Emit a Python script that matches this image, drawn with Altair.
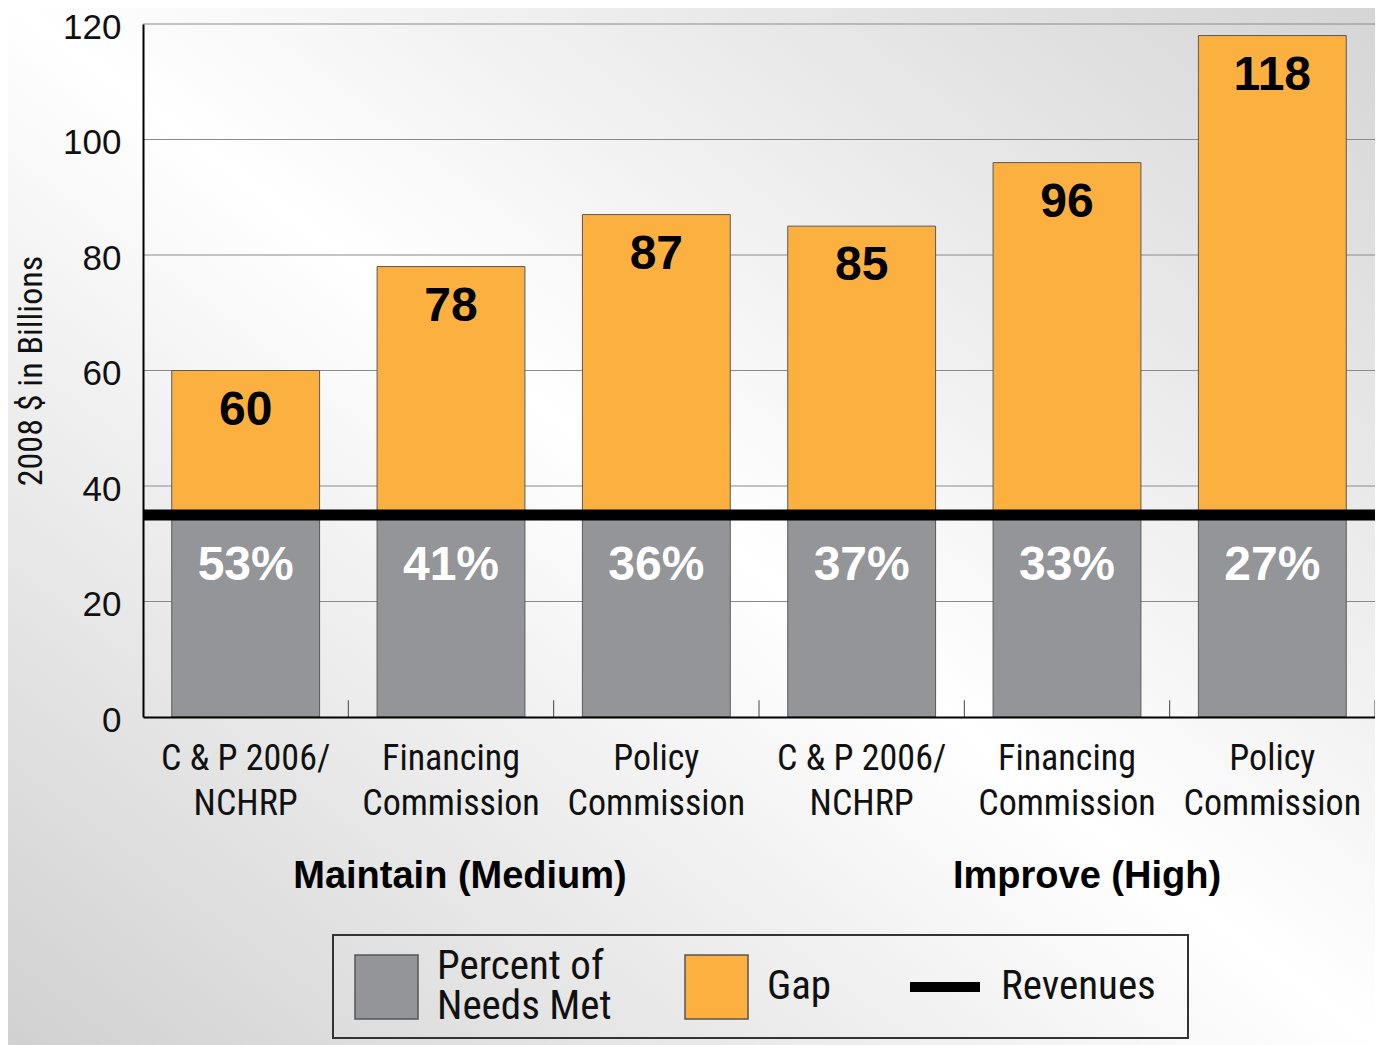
import altair as alt
import pandas as pd

# ---- data ----
groups = ["Maintain (Medium)"] * 3 + ["Improve (High)"] * 3
line1 = ["C & P 2006/", "Financing", "Policy", "C & P 2006/", "Financing", "Policy"]
line2 = ["NCHRP", "Commission", "Commission", "NCHRP", "Commission", "Commission"]
totals = [60, 78, 87, 85, 96, 118]
percent_met = ["53%", "41%", "36%", "37%", "33%", "27%"]
revenue = 35
y_ticks = [0, 20, 40, 60, 80, 100, 120]
series = ["Percent of|Needs Met", "Gap", "Revenues"]
colors = ["#939598", "#FBB040", "#000000"]
group_names = ["Maintain (Medium)", "Improve (High)"]

keys = [f"{g}|{a}|{b}" for g, a, b in zip(groups, line1, line2)]

bars = []
for k, t in zip(keys, totals):
    bars.append({"key": k, "series": series[0], "y0": 0, "y1": revenue})
    bars.append({"key": k, "series": series[1], "y0": revenue, "y1": t})
bars_df = pd.DataFrame(bars)
labels_df = pd.DataFrame({"key": keys, "total": totals, "pct": percent_met,
                          "rev": [revenue] * len(keys)})
rev_df = pd.DataFrame({"series": [series[2]], "value": [revenue]})
grid_df = pd.DataFrame({"v": y_ticks[1:]})

W, H = 1232, 693
NARROW = "Liberation Sans Narrow, Roboto Condensed, DejaVu Sans Condensed, Liberation Sans, sans-serif"
SANS = "Liberation Sans, Arial, Helvetica, sans-serif"

xscale = alt.Scale(domain=keys, paddingInner=0, paddingOuter=0)
yscale = alt.Scale(domain=[0, 120], nice=False)
cscale = alt.Scale(domain=series, range=colors)

xaxis = alt.Axis(title=None, labelExpr="slice(split(datum.label, '|'), 1)",
                 labelFont=NARROW, labelFontSize=36, labelColor="#111",
                 labelLineHeight=45, labelPadding=24, labelAngle=0,
                 ticks=False, domainColor="#000", domainWidth=2, zindex=1,
                 labelLimit=400)
yaxis = alt.Axis(title="2008 $ in Billions", values=y_ticks, grid=False, ticks=False,
                 labelFont=SANS, labelFontSize=35, labelColor="#111",
                 labelPadding=22, labelOffset=3, domainColor="#000", domainWidth=2,
                 titleFont=NARROW, titleFontSize=34, titleFontWeight="normal",
                 titleColor="#111", titlePadding=14, zindex=1)

gradient = {"gradient": "linear", "x1": 0, "y1": 1, "x2": 1, "y2": 0,
            "stops": [{"offset": 0, "color": "#d0d0d0"},
                      {"offset": 0.5, "color": "#ffffff"},
                      {"offset": 1, "color": "#d4d4d4"}]}

one = pd.DataFrame({"a": [0]})

bg = alt.Chart(one).mark_rect(fill=gradient).encode(
    x=alt.value(-143), x2=alt.value(W + 20), y=alt.value(-30), y2=alt.value(H + 340))

grid = alt.Chart(grid_df).mark_rule(color="#8a8a8a", strokeWidth=1).encode(
    y=alt.Y("v:Q", scale=yscale, axis=yaxis))

bar = alt.Chart(bars_df).mark_bar(width=alt.RelativeBandSize(0.72), stroke="#5a5a5a",
                                  strokeWidth=1).encode(
    x=alt.X("key:N", sort=keys, scale=xscale, axis=xaxis),
    y=alt.Y("y0:Q", scale=yscale, axis=yaxis),
    y2="y1:Q",
    color=alt.Color("series:N", scale=cscale, legend=None))

rev = alt.Chart(rev_df).mark_rule(strokeWidth=11).encode(
    y=alt.Y("value:Q", scale=yscale),
    color=alt.Color("series:N", scale=cscale, legend=None))

ticks = alt.Chart(labels_df).mark_rule(color="#444", strokeWidth=1).encode(
    x=alt.X("key:N", bandPosition=1, scale=xscale),
    y=alt.datum(0), y2=alt.datum(2.9))

pct = alt.Chart(labels_df).mark_text(font=SANS, fontSize=48, fontWeight="bold",
                                     color="white", baseline="middle", dy=51).encode(
    x=alt.X("key:N", scale=xscale), y=alt.Y("rev:Q", scale=yscale), text="pct:N")

tot = alt.Chart(labels_df).mark_text(font=SANS, fontSize=48, fontWeight="bold",
                                     color="#000", baseline="middle", dy=40).encode(
    x=alt.X("key:N", scale=xscale), y=alt.Y("total:Q", scale=yscale), text="total:Q")

def group_label(i, key, dx):
    return alt.Chart(pd.DataFrame({"group": [group_names[i]], "key": [key]})).mark_text(
        font=SANS, fontSize=38, fontWeight="bold", color="#000", baseline="middle",
        dx=dx).encode(
        x=alt.X("key:N", scale=xscale), y=alt.value(H + 160), text="group:N")

grp1 = group_label(0, keys[1], 9)
grp2 = group_label(1, keys[4], 20)

# ---- legend (drawn manually) ----
LX, LY = 190, 911
leg_box = alt.Chart(one).mark_rect(fill="transparent", stroke="#333", strokeWidth=2).encode(
    x=alt.value(LX), x2=alt.value(LX + 855), y=alt.value(LY), y2=alt.value(LY + 103))

def swatch(i, x0):
    return alt.Chart(pd.DataFrame({"series": [series[i]]})).mark_rect(
        stroke="#555", strokeWidth=1.5).encode(
        x=alt.value(x0), x2=alt.value(x0 + 63), y=alt.value(LY + 20), y2=alt.value(LY + 84),
        color=alt.Color("series:N", scale=cscale, legend=None))

def leg_text(i, x0, y0):
    return alt.Chart(pd.DataFrame({"series": [series[i]]})).mark_text(
        font=NARROW, fontSize=41, color="#111", align="left", baseline="middle",
        lineBreak="|", lineHeight=40).encode(
        x=alt.value(x0), y=alt.value(y0), text="series:N")

sw1 = swatch(0, LX + 22)
sw2 = swatch(1, LX + 352)
lt1 = leg_text(0, LX + 104, LY + 32)
lt2 = leg_text(1, LX + 434, LY + 52)
lt3 = leg_text(2, LX + 668, LY + 52)
leg_line = alt.Chart(pd.DataFrame({"series": [series[2]]})).mark_rule(strokeWidth=10).encode(
    x=alt.value(LX + 577), x2=alt.value(LX + 647), y=alt.value(LY + 52),
    color=alt.Color("series:N", scale=cscale, legend=None))

chart = alt.layer(bg, grid, bar, rev, ticks, pct, tot, grp1, grp2,
                  leg_box, sw1, sw2, leg_line, lt1, lt2, lt3).properties(
    width=W, height=H,
    autosize=alt.AutoSizeParams(type="none"),
    padding={"left": 135, "top": 16, "right": 0, "bottom": 330},
).configure_view(stroke=None).configure(background="#ffffff")

chart.save("out.html", embed_options={"renderer": "svg", "actions": False})
